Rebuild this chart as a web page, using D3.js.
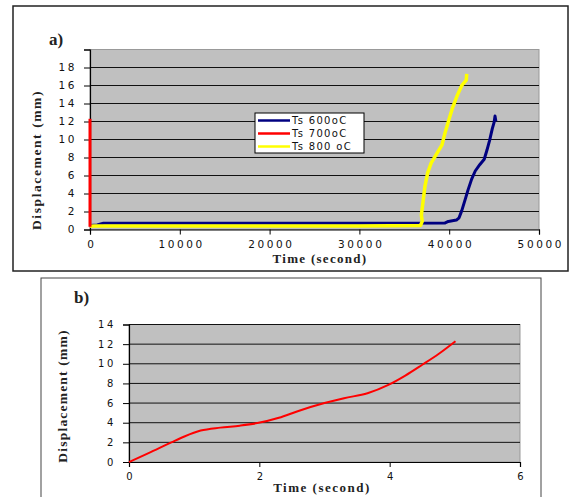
<!DOCTYPE html>
<html>
<head>
<meta charset="utf-8">
<title>Displacement vs time</title>
<script src="https://cdn.jsdelivr.net/npm/d3@7"></script>
<style>
  body { margin: 0; background: #fff; }
  svg { display: block; }
  .tick text { font-family: "DejaVu Sans", sans-serif; fill: #111; }
  .ttl { font-family: "Liberation Serif", "Times New Roman", serif; font-weight: bold; fill: #222; }
</style>
</head>
<body>
<div id="chart"></div>
<script>
// panel a) : [time (s), displacement (mm)]
var ts600 = [[0,0.45],[800,0.5],[1500,0.7],[10000,0.7],[20000,0.7],[30000,0.7],[39500,0.72],[39900,0.9],
  [40800,1.05],[41100,1.3],[41400,2.1],[41800,3.4],[42100,4.4],[42500,5.6],[42900,6.5],[43400,7.2],
  [43900,7.8],[44200,8.8],[44500,9.9],[44800,11.2],[45000,11.9],[45100,12.6],[45200,12.0]];
var ts700 = [[0,0.3],[0,12.3]];
var ts800 = [[0,0.35],[500,0.4],[10000,0.4],[20000,0.4],[30000,0.4],[36800,0.45],[37000,0.9],
  [36900,1.6],[37100,3.2],[37300,4.8],[37600,6.3],[38000,7.4],[38600,8.4],[39200,9.4],[39500,10.6],
  [40000,12.3],[40400,13.6],[40900,14.9],[41400,16.0],[41900,16.6],[41950,17.3]];
var seriesNames = ["Ts 600oC", "Ts 700oC", "Ts 800 oC"];
var seriesColors = ["#000080", "#ff0000", "#ffff00"];
var xTicksA = [0, 10000, 20000, 30000, 40000, 50000];
var yTicksA = [0, 2, 4, 6, 8, 10, 12, 14, 16, 18, 20];

// panel b) : [time (s), displacement (mm)]
var tsB = [[0,0],[0.3,0.9],[0.65,2.0],[0.85,2.6],[1.1,3.2],[1.4,3.5],[1.7,3.7],[1.97,3.96],[2.3,4.5],
  [2.6,5.2],[3.0,6.0],[3.3,6.5],[3.66,7.0],[3.98,7.85],[4.24,8.8],[4.5,9.9],[4.75,11.0],[5.01,12.3]];
var xTicksB = [0, 2, 4, 6];
var yTicksB = [0, 2, 4, 6, 8, 10, 12, 14];

var svg = d3.select("#chart").append("svg").attr("width", 571).attr("height", 497);

// frames
svg.append("rect").attr("x", 13).attr("y", 6).attr("width", 555).attr("height", 265)
  .attr("fill", "none").attr("stroke", "#222").attr("stroke-width", 1.5);
svg.append("rect").attr("x", 41).attr("y", 278).attr("width", 500).attr("height", 230)
  .attr("fill", "none").attr("stroke", "#444").attr("stroke-width", 1);

function panel(g, x, y, xt, yt, hideTop) {
  var r = x.range(), b = y.range();
  g.append("rect").attr("x", r[0]).attr("y", b[1]).attr("width", r[1] - r[0]).attr("height", b[0] - b[1])
    .attr("fill", "#c0c0c0").attr("stroke", "#999").attr("stroke-width", 1);
  g.selectAll("line.grid").data(yt.slice(1, hideTop ? yt.length - 1 : yt.length)).join("line")
    .attr("class", "grid").attr("x1", r[0]).attr("x2", r[1])
    .attr("y1", d => y(d)).attr("y2", d => y(d)).attr("stroke", "#111").attr("stroke-width", 1);
  var ya = g.append("g").attr("transform", "translate(" + r[0] + ",0)")
    .call(d3.axisLeft(y).tickValues(yt).tickSize(6).tickPadding(7)
      .tickFormat(d => (hideTop && d === yt[yt.length - 1]) ? "" : d));
  var xa = g.append("g").attr("transform", "translate(0," + b[0] + ")")
    .call(d3.axisBottom(x).tickValues(xt).tickSize(5).tickPadding(6).tickFormat(d3.format("d")));
  [ya, xa].forEach(a => {
    a.select(".domain").attr("stroke", "#000").attr("stroke-width", 1.2);
    a.selectAll(".tick line").attr("stroke", "#000");
    a.selectAll(".tick text").attr("font-size", 10.5).attr("letter-spacing", "2.6px");
  });
  // letter-spacing adds a trailing gap; nudge labels back
  xa.selectAll(".tick text").attr("dx", "1.3px");
  return { ya: ya, xa: xa };
}

// ---- panel a
var xa = d3.scaleLinear().domain([0, 50000]).range([90, 539]);
var ya = d3.scaleLinear().domain([0, 20]).range([229.5, 49.5]);
var ga = svg.append("g");
panel(ga, xa, ya, xTicksA, yTicksA, true);

var lineA = d3.line().x(d => xa(d[0])).y(d => ya(d[1]));
[ts600, ts800, ts700].forEach(function (s, i) {
  var idx = [0, 2, 1][i];
  ga.append("path").attr("d", lineA(s)).attr("fill", "none")
    .attr("stroke", seriesColors[idx]).attr("stroke-width", idx === 2 ? 3.5 : 3)
    .attr("stroke-linejoin", "round");
});

svg.append("text").attr("class", "ttl").attr("x", 49).attr("y", 45).attr("font-size", 17).text("a)");
svg.append("text").attr("class", "ttl").attr("x", 320).attr("y", 263).attr("text-anchor", "middle")
  .attr("font-size", 13).attr("letter-spacing", "1.3px").text("Time (second)");
svg.append("text").attr("class", "ttl").attr("transform", "translate(41,160) rotate(-90)")
  .attr("text-anchor", "middle").attr("font-size", 13.5).attr("letter-spacing", "1.6px").text("Displacement (mm)");

// legend
var lg = svg.append("g").attr("transform", "translate(255,113)");
lg.append("rect").attr("width", 109).attr("height", 40).attr("fill", "#fff").attr("stroke", "#000");
seriesNames.forEach(function (n, i) {
  var yy = 7.5 + i * 13;
  lg.append("line").attr("x1", 3).attr("x2", 35).attr("y1", yy).attr("y2", yy)
    .attr("stroke", seriesColors[i]).attr("stroke-width", 2.5);
  lg.append("text").attr("x", 37).attr("y", yy + 3.8).attr("font-family", "DejaVu Sans, sans-serif")
    .attr("font-size", 10).attr("letter-spacing", "1.3px").attr("fill", "#111").text(n);
});

// ---- panel b
var xb = d3.scaleLinear().domain([0, 6]).range([129, 520]);
var yb = d3.scaleLinear().domain([0, 14]).range([462, 324.5]);
var gb = svg.append("g");
panel(gb, xb, yb, xTicksB, yTicksB, false);
gb.selectAll(".tick text").attr("font-size", 10);

var lineB = d3.line().x(d => xb(d[0])).y(d => yb(d[1])).curve(d3.curveMonotoneX);
gb.append("path").attr("d", lineB(tsB)).attr("fill", "none").attr("stroke", "#ff0000").attr("stroke-width", 2);

svg.append("text").attr("class", "ttl").attr("x", 322).attr("y", 492).attr("text-anchor", "middle")
  .attr("font-size", 13).attr("letter-spacing", "1.5px").text("Time (second)");
svg.append("text").attr("class", "ttl").attr("x", 74).attr("y", 303).attr("font-size", 17).text("b)");
svg.append("text").attr("class", "ttl").attr("transform", "translate(67,396) rotate(-90)")
  .attr("text-anchor", "middle").attr("font-size", 13.5).attr("letter-spacing", "1.2px").text("Displacement (mm)");
</script>
</body>
</html>
